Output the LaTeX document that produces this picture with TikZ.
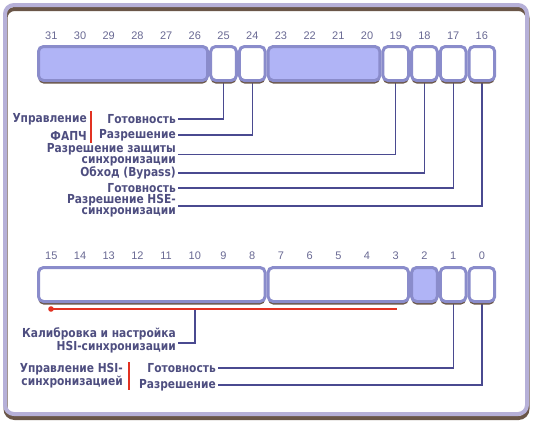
\documentclass[tikz,border=0pt]{standalone}
\usepackage{fontspec}
\setmainfont{DejaVu Sans}
\newfontfamily\lblfam[FakeStretch=0.86]{DejaVu Sans}
\newfontfamily\numfont{Liberation Sans}
\usetikzlibrary{shadows,backgrounds}
\definecolor{frameblue}{RGB}{182,176,216}
\definecolor{regedge}{RGB}{138,140,203}
\definecolor{regfill}{RGB}{176,180,246}
\definecolor{shbrown}{RGB}{106,86,72}
\definecolor{txtblue}{RGB}{78,78,128}
\definecolor{wireblue}{RGB}{74,74,144}
\definecolor{accred}{RGB}{226,50,34}
\newcommand{\lblfont}{\lblfam\fontsize{12.4}{11}\selectfont\bfseries}

\begin{document}
\begin{tikzpicture}[x=1pt, y=-1pt,
    bitbox/.style={draw=regedge, line width=3pt, fill=white, rounded corners=5pt,
      minimum height=34pt, inner sep=0pt, outer sep=0pt,
      drop shadow={shadow xshift=0pt, shadow yshift=-3pt, fill=shbrown, opacity=1}},
    bitnum/.style={text=txtblue!85, font=\numfont\fontsize{11}{11}\selectfont, inner sep=0pt},
    lab/.style={text=txtblue, font=\lblfont, anchor=east, inner xsep=2pt, inner ysep=0pt, align=right},
    wire/.style={draw=wireblue, line width=1.3pt},
    redbar/.style={draw=accred, line width=2pt}]
  \useasboundingbox (0,0) rectangle (535,429);
  % outer frame
  \draw[shbrown, line width=4pt, rounded corners=9pt] (5.5,9) rectangle (527.5,418);
  \draw[frameblue, line width=4pt, rounded corners=9pt] (5,5) rectangle (527,414);

  % bit numbers
  \foreach \b in {31,...,16}
    \node[bitnum] (n\b) at ({51.35+28.7*(31-\b)},35.5) {\b};
  \foreach \b in {15,...,0}
    \node[bitnum] (n\b) at ({51.35+28.7*(15-\b)},256) {\b};

  % upper register
  \node[bitbox, fill=regfill, minimum width=169.2pt] (f3126) at (123.1,63.5) {};
  \node[bitbox, minimum width=25.7pt] (b25) at (223.55,63.5) {};
  \node[bitbox, minimum width=25.7pt] (b24) at (252.25,63.5) {};
  \node[bitbox, fill=regfill, minimum width=111.8pt] (f2320) at (324,63.5) {};
  \node[bitbox, minimum width=25.7pt] (b19) at (395.75,63.5) {};
  \node[bitbox, minimum width=25.7pt] (b18) at (424.45,63.5) {};
  \node[bitbox, minimum width=25.7pt] (b17) at (453.15,63.5) {};
  \node[bitbox, minimum width=25.7pt] (b16) at (481.85,63.5) {};

  % lower register
  \node[bitbox, minimum width=226.6pt] (f1508) at (151.8,284.5) {};
  \node[bitbox, minimum width=140.5pt] (f0703) at (338.35,284.5) {};
  \node[bitbox, fill=regfill, minimum width=25.7pt] (b2) at (424.45,284.5) {};
  \node[bitbox, minimum width=25.7pt] (b1) at (453.15,284.5) {};
  \node[bitbox, minimum width=25.7pt] (b0) at (481.85,284.5) {};

  % labels
  \node[lab] (pllrdy) at (178,119) {Готовность};
  \node[lab] (pllon) at (178,135) {Разрешение};
  \node[lab] (pllctl) at (89,127) {Управление\\[5pt]ФАПЧ};
  \node[lab] (csson) at (178,154.5) {Разрешение защиты\\синхронизации};
  \node[lab] (hsebyp) at (178,173) {Обход (Bypass)};
  \node[lab] (hserdy) at (178,188) {Готовность};
  \node[lab] (hseon) at (178,206) {Разрешение HSE-\\синхронизации};
  \node[lab] (hsical) at (178,340) {Калибровка и настройка\\HSI-синхронизации};
  \node[lab] (hsirdy) at (218,368) {Готовность};
  \node[lab] (hsion) at (218,385) {Разрешение};
  \node[lab] (hsictl) at (125,376) {Управление HSI-\\синхронизацией};

  \draw[redbar] ([xshift=2pt,yshift=2pt]pllctl.north east) -- ([xshift=2pt,yshift=-2pt]pllctl.south east);
  \draw[redbar] ([xshift=4pt,yshift=1pt]hsictl.north east) -- ([xshift=4pt,yshift=-1pt]hsictl.south east);

  % calibration bus
  \coordinate (calL) at (51,309);
  \coordinate (calR) at (397,309);
  \coordinate (calT) at (195,309);
  \draw[accred, line width=1.5pt] (calL) -- (calR);
  \fill[accred] (calL) circle (2.8pt);

  \begin{scope}[on background layer]
    \draw[wire] (b25.south) |- (pllrdy.east);
    \draw[wire] (b24.south) |- (pllon.east);
    \draw[wire] (b19.south) |- (csson.east);
    \draw[wire] (b18.south) |- (hsebyp.east);
    \draw[wire] (b17.south) |- (hserdy.east);
    \draw[wire] (b16.south) |- (hseon.east);
    \draw[wire] (calT) |- ([yshift=-3pt]hsical.east);
    \draw[wire] (b1.south) |- (hsirdy.east);
    \draw[wire] (b0.south) |- (hsion.east);
  \end{scope}
\end{tikzpicture}
\end{document}
